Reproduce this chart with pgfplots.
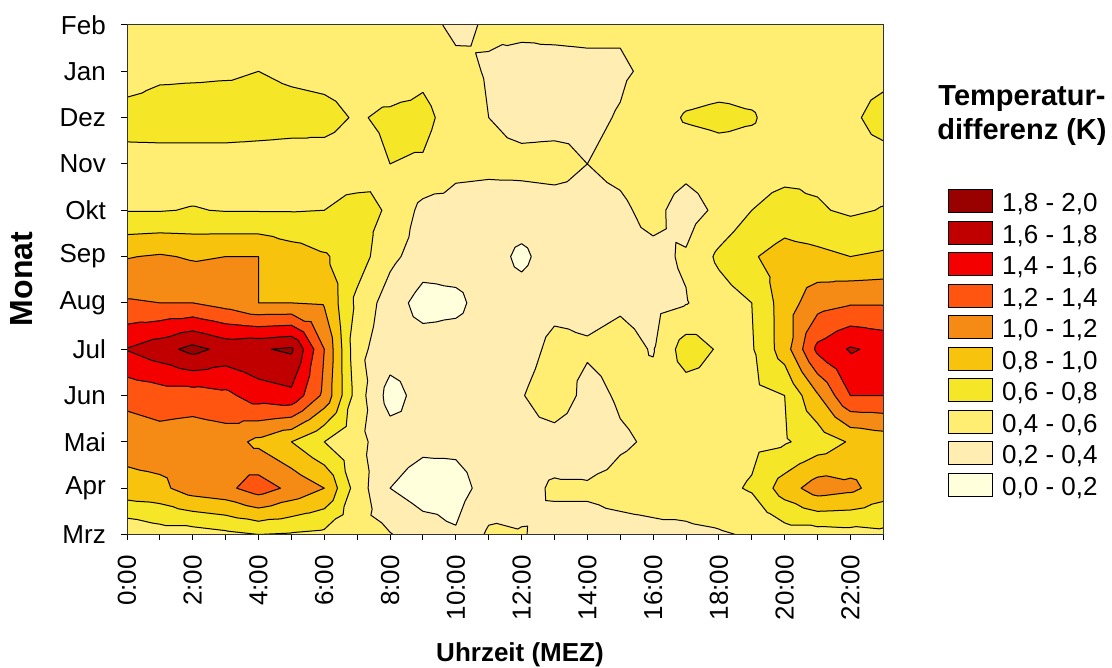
\documentclass[border=0pt]{standalone}
\usepackage{fontspec}
\setmainfont{Liberation Sans}
\usepackage{pgfplots}
\usepackage{pgfplotstable}
\pgfplotsset{compat=1.18}

% band colours, 0.0-0.2 ... 1.8-2.0 K
\definecolor{tdc0}{HTML}{FFFFDC}
\definecolor{tdc1}{HTML}{FFEDB2}
\definecolor{tdc2}{HTML}{FFEE72}
\definecolor{tdc3}{HTML}{F5E628}
\definecolor{tdc4}{HTML}{F8C30C}
\definecolor{tdc5}{HTML}{F58A14}
\definecolor{tdc6}{HTML}{FF5511}
\definecolor{tdc7}{HTML}{F50000}
\definecolor{tdc8}{HTML}{C00000}
\definecolor{tdc9}{HTML}{990000}

% Temperaturdifferenz (K): one row per month, one column per hour (MEZ)
\pgfplotstableread{
month h0 h1 h2 h3 h4 h5 h6 h7 h8 h9 h10 h11 h12 h13 h14 h15 h16 h17 h18 h19 h20 h21 h22 h23
Mrz 0.42 0.50 0.50 0.55 0.60 0.58 0.55 0.45 0.41 0.30 0.22 0.43 0.41 0.35 0.35 0.35 0.36 0.36 0.38 0.42 0.50 0.50 0.52 0.55
Apr 0.93 0.95 1.10 1.15 1.30 1.15 1.00 0.50 0.20 0.10 0.12 0.28 0.35 0.42 0.42 0.45 0.47 0.50 0.55 0.62 0.90 1.10 1.05 0.90
Mai 1.08 1.12 1.08 1.10 0.95 0.80 0.60 0.45 0.30 0.25 0.25 0.30 0.35 0.33 0.30 0.38 0.42 0.45 0.50 0.55 0.58 0.68 0.82 0.88
Jun 1.26 1.30 1.30 1.35 1.50 1.55 1.15 0.50 0.12 0.28 0.30 0.30 0.39 0.50 0.35 0.42 0.45 0.50 0.52 0.55 0.60 0.98 1.40 1.40
Jul 1.61 1.72 1.86 1.74 1.78 1.83 1.20 0.45 0.30 0.30 0.30 0.30 0.32 0.45 0.42 0.45 0.39 0.70 0.58 0.58 0.90 1.45 1.62 1.55
Aug 1.22 1.20 1.20 1.12 1.00 1.00 0.98 0.55 0.30 0.12 0.15 0.30 0.30 0.35 0.35 0.38 0.35 0.39 0.50 0.60 0.90 1.12 1.18 1.18
Sep 0.99 1.02 0.98 1.00 1.00 0.90 0.82 0.70 0.45 0.30 0.30 0.30 0.15 0.32 0.33 0.35 0.36 0.42 0.64 0.78 0.88 0.85 0.80 0.83
Okt 0.59 0.59 0.61 0.59 0.59 0.59 0.60 0.66 0.58 0.34 0.33 0.32 0.33 0.34 0.35 0.37 0.45 0.32 0.44 0.60 0.68 0.62 0.57 0.61
Nov 0.50 0.50 0.50 0.50 0.50 0.50 0.52 0.50 0.60 0.58 0.45 0.44 0.44 0.45 0.40 0.44 0.50 0.46 0.50 0.50 0.52 0.55 0.50 0.50
Dez 0.71 0.72 0.72 0.72 0.70 0.68 0.66 0.58 0.64 0.66 0.50 0.40 0.35 0.35 0.37 0.41 0.50 0.62 0.65 0.62 0.50 0.52 0.55 0.70
Jan 0.46 0.55 0.56 0.57 0.60 0.56 0.54 0.52 0.47 0.55 0.45 0.385 0.35 0.34 0.35 0.38 0.43 0.48 0.50 0.50 0.50 0.50 0.50 0.52
Feb 0.50 0.50 0.50 0.50 0.50 0.50 0.50 0.50 0.50 0.46 0.36 0.42 0.43 0.445 0.45 0.42 0.47 0.50 0.50 0.50 0.50 0.50 0.50 0.50
}\tdtable

% Filled contour bands and contour lines from the grid:
% every cell is split into four triangles around its centre,
% values are interpolated linearly inside each triangle.
\ExplSyntaxOn
\fparray_new:Nn \g_td_val_fparray { 288 }
\fp_new:N \l_td_a_fp
\fp_new:N \l_td_b_fp
\fp_new:N \l_td_c_fp
\fp_new:N \l_td_d_fp
\fp_new:N \l_td_e_fp
\fp_new:N \l_td_t_fp
\int_new:N \l_td_kmin_int
\int_new:N \l_td_kmax_int
\bool_new:N \l_td_pin_bool
\bool_new:N \l_td_cin_bool
\seq_new:N \l_td_tri_seq
\seq_new:N \l_td_a_seq
\seq_new:N \l_td_b_seq
\tl_new:N \l_td_prev_tl
\tl_new:N \l_td_first_tl
\tl_new:N \l_td_last_tl
\tl_new:N \l_td_poly_tl
\tl_new:N \l_td_A_tl
\tl_new:N \l_td_B_tl
\tl_new:N \l_td_C_tl
\tl_new:N \l_td_D_tl
\tl_new:N \l_td_E_tl

\cs_new:Npn \td_v:nn #1#2
  { \fparray_item:Nn \g_td_val_fparray { (#2) * 24 + (#1) + 1 } }
\cs_new:Npn \td_band:n #1
  { \fp_eval:n { max(0, min(9, floor((#1) / 0.2))) } }
\cs_new:Npn \td_pt:nnn #1#2#3
  { ( \fp_eval:n { round(#1, 4) } , \fp_eval:n { round(#2, 4) } ) ~ }

\cs_new_protected:Npn \td_load:
  {
    \int_step_inline:nnn { 0 } { 11 }
      {
        \int_step_inline:nnn { 0 } { 23 }
          {
            \pgfplotstablegetelem { ##1 } { h ####1 } \of \tdtable
            \fparray_gset:Nnn \g_td_val_fparray { ##1 * 24 + ####1 + 1 } { \pgfplotsretval }
          }
      }
  }

% level #1; previous vertex #2 #3 #4; current vertex #5 #6 #7; output seq #8
\cs_new_protected:Npn \td_cross:nnnnnnnN #1#2#3#4#5#6#7#8
  {
    \fp_set:Nn \l_td_t_fp { ((#1) - (#4)) / ((#7) - (#4)) }
    \seq_put_right:Nx #8
      {
        { \fp_eval:n { (#2) + \l_td_t_fp * ((#5) - (#2)) } }
        { \fp_eval:n { (#3) + \l_td_t_fp * ((#6) - (#3)) } }
        { \fp_eval:n { #1 } }
      }
  }

\cs_new_protected:Npn \td_clip_step:nnnnnnnnN #1#2#3#4#5#6#7#8#9
  {
    \bool_set:Nn \l_td_pin_bool { \fp_compare_p:n { (#2) * ((#5) - (#1)) >= 0 } }
    \bool_set:Nn \l_td_cin_bool { \fp_compare_p:n { (#2) * ((#8) - (#1)) >= 0 } }
    \bool_if:NTF \l_td_cin_bool
      {
        \bool_if:NF \l_td_pin_bool
          { \td_cross:nnnnnnnN {#1} {#3} {#4} {#5} {#6} {#7} {#8} #9 }
        \seq_put_right:Nn #9 { {#6} {#7} {#8} }
      }
      {
        \bool_if:NT \l_td_pin_bool
          { \td_cross:nnnnnnnN {#1} {#3} {#4} {#5} {#6} {#7} {#8} #9 }
      }
  }

% keep the part of polygon #1 with sign*(v - level) >= 0, result in #2
\cs_new_protected:Npn \td_clip:NNnn #1#2#3#4
  {
    \seq_clear:N #2
    \seq_get_right:NN #1 \l_td_prev_tl
    \seq_map_inline:Nn #1
      {
        \use:x
          {
            \exp_not:N \td_clip_step:nnnnnnnnN
              { #3 } { #4 }
              \exp_not:V \l_td_prev_tl
              \exp_not:n { ##1 }
              \exp_not:N #2
          }
        \tl_set:Nn \l_td_prev_tl { ##1 }
      }
  }

\cs_new_protected:Npn \td_add_poly:nN #1#2
  {
    \int_compare:nNnT { \seq_count:N #2 } > { 2 }
      {
        \tl_clear:N \l_td_poly_tl
        \seq_map_inline:Nn #2
          { \tl_put_right:Nx \l_td_poly_tl { \td_pt:nnn ##1 } }
        \seq_get_left:NN #2 \l_td_first_tl
        \tl_put_right:Nx \l_td_poly_tl { \exp_after:wN \td_pt:nnn \l_td_first_tl }
        \tl_gput_right:cx { tdband #1 } { \exp_not:V \l_td_poly_tl (nan,nan) ~ }
      }
  }

\cs_new_protected:Npn \td_seg_step:nnnnnnnN #1#2#3#4#5#6#7#8
  {
    \bool_set:Nn \l_td_pin_bool { \fp_compare_p:n { #4 >= #1 } }
    \bool_set:Nn \l_td_cin_bool { \fp_compare_p:n { #7 >= #1 } }
    \bool_if:nT
      { ( \l_td_pin_bool && ! \l_td_cin_bool ) || ( ! \l_td_pin_bool && \l_td_cin_bool ) }
      { \td_cross:nnnnnnnN {#1} {#2} {#3} {#4} {#5} {#6} {#7} #8 }
  }

\cs_new_protected:Npn \td_segment:n #1
  {
    \seq_clear:N \l_td_b_seq
    \seq_get_right:NN \l_td_tri_seq \l_td_prev_tl
    \seq_map_inline:Nn \l_td_tri_seq
      {
        \use:x
          {
            \exp_not:N \td_seg_step:nnnnnnnN
              { #1 }
              \exp_not:V \l_td_prev_tl
              \exp_not:n { ##1 }
              \exp_not:N \l_td_b_seq
          }
        \tl_set:Nn \l_td_prev_tl { ##1 }
      }
    \int_compare:nNnT { \seq_count:N \l_td_b_seq } = { 2 }
      {
        \seq_get_left:NN \l_td_b_seq \l_td_first_tl
        \seq_get_right:NN \l_td_b_seq \l_td_last_tl
        \tl_if_eq:NNF \l_td_first_tl \l_td_last_tl
          {
            \tl_gput_right:cx { tdlines }
              {
                \exp_after:wN \td_pt:nnn \l_td_first_tl
                \exp_after:wN \td_pt:nnn \l_td_last_tl
                (nan,nan) ~
              }
          }
      }
  }

\cs_new_protected:Npn \td_triangle:nnnnnnnnn #1#2#3#4#5#6#7#8#9
  {
    \seq_clear:N \l_td_tri_seq
    \seq_put_right:Nn \l_td_tri_seq { {#1} {#2} {#3} }
    \seq_put_right:Nn \l_td_tri_seq { {#4} {#5} {#6} }
    \seq_put_right:Nn \l_td_tri_seq { {#7} {#8} {#9} }
    \int_set:Nn \l_td_kmin_int { \td_band:n { min(#3, #6, #9) } }
    \int_set:Nn \l_td_kmax_int { \td_band:n { max(#3, #6, #9) } }
    \int_compare:nNnTF \l_td_kmin_int = \l_td_kmax_int
      {
        \int_compare:nNnF \l_td_kmin_int = { 2 }
          { \td_add_poly:nN { \int_use:N \l_td_kmin_int } \l_td_tri_seq }
      }
      {
        \int_step_inline:nnn { \l_td_kmin_int } { \l_td_kmax_int }
          {
            \int_compare:nNnF { ##1 } = { 2 }
              {
                \seq_set_eq:NN \l_td_a_seq \l_td_tri_seq
                \int_compare:nNnT { ##1 } > { 0 }
                  {
                    \td_clip:NNnn \l_td_a_seq \l_td_b_seq { \fp_eval:n { 0.2 * ##1 } } { 1 }
                    \seq_set_eq:NN \l_td_a_seq \l_td_b_seq
                  }
                \int_compare:nNnT { ##1 } < { 9 }
                  {
                    \td_clip:NNnn \l_td_a_seq \l_td_b_seq { \fp_eval:n { 0.2 * (##1 + 1) } } { -1 }
                    \seq_set_eq:NN \l_td_a_seq \l_td_b_seq
                  }
                \td_add_poly:nN { ##1 } \l_td_a_seq
              }
          }
        \int_step_inline:nnn { \l_td_kmin_int + 1 } { \l_td_kmax_int }
          { \td_segment:n { \fp_eval:n { 0.2 * ##1 } } }
      }
  }

\cs_new_protected:Npn \td_tri:NNN #1#2#3
  {
    \use:x
      {
        \exp_not:N \td_triangle:nnnnnnnnn
          \exp_not:V #1 \exp_not:V #2 \exp_not:V #3
      }
  }

\cs_new_protected:Npn \td_cell:nn #1#2
  {
    \fp_set:Nn \l_td_a_fp { \td_v:nn { #1 } { #2 } }
    \fp_set:Nn \l_td_b_fp { \td_v:nn { #1 + 1 } { #2 } }
    \fp_set:Nn \l_td_c_fp { \td_v:nn { #1 + 1 } { #2 + 1 } }
    \fp_set:Nn \l_td_d_fp { \td_v:nn { #1 } { #2 + 1 } }
    \fp_set:Nn \l_td_e_fp { ( \l_td_a_fp + \l_td_b_fp + \l_td_c_fp + \l_td_d_fp ) / 4 }
    \int_set:Nn \l_td_kmin_int
      { \td_band:n { min( \l_td_a_fp , \l_td_b_fp , \l_td_c_fp , \l_td_d_fp ) } }
    \int_set:Nn \l_td_kmax_int
      { \td_band:n { max( \l_td_a_fp , \l_td_b_fp , \l_td_c_fp , \l_td_d_fp ) } }
    \int_compare:nNnTF \l_td_kmin_int = \l_td_kmax_int
      {
        \int_compare:nNnF \l_td_kmin_int = { 2 }
          {
            \tl_gput_right:cx { tdband \int_use:N \l_td_kmin_int }
              {
                ( #1 , #2 ) ~ ( \int_eval:n { #1 + 1 } , #2 ) ~
                ( \int_eval:n { #1 + 1 } , \int_eval:n { #2 + 1 } ) ~
                ( #1 , \int_eval:n { #2 + 1 } ) ~ ( #1 , #2 ) ~ (nan,nan) ~
              }
          }
      }
      {
        \tl_set:Nx \l_td_A_tl { {#1} {#2} { \fp_use:N \l_td_a_fp } }
        \tl_set:Nx \l_td_B_tl { { \int_eval:n { #1 + 1 } } {#2} { \fp_use:N \l_td_b_fp } }
        \tl_set:Nx \l_td_C_tl
          { { \int_eval:n { #1 + 1 } } { \int_eval:n { #2 + 1 } } { \fp_use:N \l_td_c_fp } }
        \tl_set:Nx \l_td_D_tl { {#1} { \int_eval:n { #2 + 1 } } { \fp_use:N \l_td_d_fp } }
        \tl_set:Nx \l_td_E_tl
          { { \fp_eval:n { #1 + 0.5 } } { \fp_eval:n { #2 + 0.5 } } { \fp_use:N \l_td_e_fp } }
        \td_tri:NNN \l_td_A_tl \l_td_B_tl \l_td_E_tl
        \td_tri:NNN \l_td_B_tl \l_td_C_tl \l_td_E_tl
        \td_tri:NNN \l_td_C_tl \l_td_D_tl \l_td_E_tl
        \td_tri:NNN \l_td_D_tl \l_td_A_tl \l_td_E_tl
      }
  }

\cs_new_protected:Npn \td_compute:
  {
    \int_step_inline:nnn { 0 } { 9 } { \tl_gclear_new:c { tdband ##1 } }
    \tl_gclear_new:c { tdlines }
    \int_step_inline:nnn { 0 } { 22 }
      { \int_step_inline:nnn { 0 } { 10 } { \td_cell:nn { ##1 } { ####1 } } }
  }
\td_load:
\td_compute:
\ExplSyntaxOff

\newcommand\tdfill[1]{%
  \edef\tdtmp{\noexpand\addplot[forget plot, draw=tdc#1, fill=tdc#1,
    line width=0.6pt, line join=round, unbounded coords=jump]
    coordinates {\csname tdband#1\endcsname};}%
  \tdtmp}
\newcommand\tdcontours{%
  \edef\tdtmp{\noexpand\addplot[forget plot, black, line width=1pt,
    line cap=round, line join=round, unbounded coords=jump]
    coordinates {\tdlines};}%
  \tdtmp}

\begin{document}
\begin{tikzpicture}
\path[use as bounding box] (0pt,0pt) rectangle (1112pt,668pt);
\begin{axis}[
  at={(127pt,133.5pt)}, anchor=south west,
  scale only axis, width=756.3pt, height=509.5pt,
  xmin=0, xmax=23, ymin=0, ymax=11,
  axis background/.style={fill=tdc2},
  axis on top,
  tick pos=left, tick align=outside,
  major tick length=6pt,
  every tick/.style={black, line width=1pt},
  axis line style={black!80, line width=1pt},
  xtick={0,...,23},
  xticklabels={0:00,,2:00,,4:00,,6:00,,8:00,,10:00,,12:00,,14:00,,16:00,,18:00,,20:00,,22:00,},
  ytick={0,...,11},
  yticklabels={Mrz,Apr,Mai,Jun,Jul,Aug,Sep,Okt,Nov,Dez,Jan,Feb},
  ticklabel style={font=\fontsize{26pt}{30pt}\selectfont},
  xticklabel style={rotate=90, anchor=east, inner sep=0pt},
  yticklabel style={anchor=east, inner sep=0pt},
  xticklabel shift=14.5pt,
  yticklabel shift=15pt,
]
\tdfill{0}
\tdfill{1}
\tdfill{3}
\tdfill{4}
\tdfill{5}
\tdfill{6}
\tdfill{7}
\tdfill{8}
\tdfill{9}
\tdcontours
\end{axis}

\node[font=\fontsize{26pt}{30pt}\selectfont\bfseries, anchor=base] at (520pt,6.3pt) {Uhrzeit (MEZ)};
\node[font=\fontsize{32pt}{36pt}\selectfont\bfseries, rotate=90, anchor=center] at (22pt,389pt) {Monat};
\node[font=\fontsize{29pt}{33pt}\selectfont\bfseries, anchor=base] at (1022pt,562pt) {Temperatur-};
\node[font=\fontsize{29pt}{33pt}\selectfont\bfseries, anchor=base] at (1022pt,528pt) {differenz (K)};
\foreach \c/\t [count=\i from 0] in {tdc9/{1,8 - 2,0}, tdc8/{1,6 - 1,8}, tdc7/{1,4 - 1,6},
    tdc6/{1,2 - 1,4}, tdc5/{1,0 - 1,2}, tdc4/{0,8 - 1,0}, tdc3/{0,6 - 0,8},
    tdc2/{0,4 - 0,6}, tdc1/{0,2 - 0,4}, tdc0/{0,0 - 0,2}}{
  \draw[fill=\c, line width=1pt] (948pt,{478pt-31.5pt*\i}) rectangle (992pt,{455pt-31.5pt*\i});
  \node[font=\fontsize{26pt}{30pt}\selectfont, anchor=base west, inner sep=0pt]
    at (1002pt,{456.3pt-31.5pt*\i}) {\t};
}
\end{tikzpicture}
\end{document}
